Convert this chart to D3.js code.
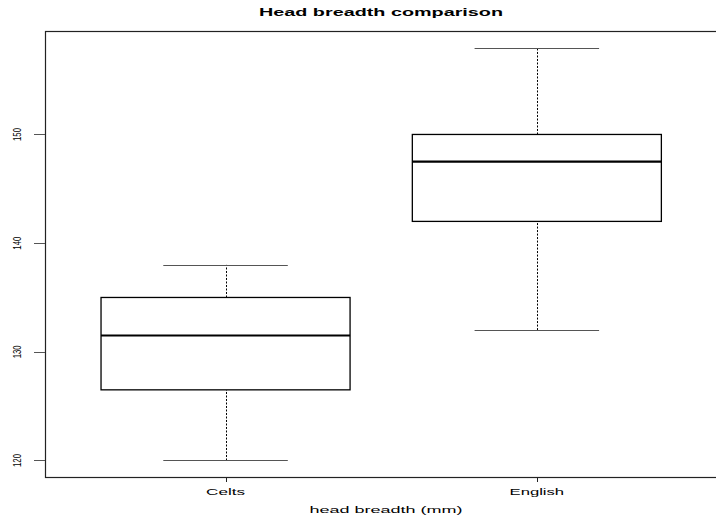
<!DOCTYPE html>
<html>
<head>
<meta charset="utf-8">
<script src="https://cdn.jsdelivr.net/npm/d3@7"></script>
<style>
  body { margin: 0; background: #fff; }
  text { font-family: "Liberation Sans", Arial, Helvetica, sans-serif; fill: #000; }
</style>
</head>
<body>
<svg width="716" height="515"></svg>
<script>
// data
var groups = ["Celts", "English"];
var lowWhisker = [120, 132];
var q1 = [126.5, 142];
var medians = [131.5, 147.5];
var q3 = [135, 150];
var highWhisker = [138, 158];
var yTicks = [120, 130, 140, 150];

var svg = d3.select("svg"),
    width = +svg.attr("width"),
    height = +svg.attr("height");

// plot region (right edge falls just off the canvas, like the original)
var plotLeft = 45, plotRight = 717.4, plotTop = 31, plotBottom = 477;

// R style 4% padding on both axes
var x = d3.scaleLinear()
    .domain([0.42, 2.58])
    .range([plotLeft, plotRight]);

var y = d3.scaleLinear()
    .domain([118.48, 159.52])
    .range([plotBottom, plotTop]);

var boxes = groups.map(function(g, i) {
  return {name: g, pos: i + 1, lo: lowWhisker[i], q1: q1[i], med: medians[i], q3: q3[i], hi: highWhisker[i]};
});

var g = svg.selectAll("g.box")
  .data(boxes)
  .enter().append("g")
    .attr("class", "box");

// dashed whiskers
g.append("line")
    .attr("x1", function(d){ return Math.round(x(d.pos)) + 0.5 })
    .attr("x2", function(d){ return Math.round(x(d.pos)) + 0.5 })
    .attr("y1", function(d){ return y(d.lo) })
    .attr("y2", function(d){ return y(d.q1) })
    .style("stroke", "#000")
    .style("stroke-width", 1)
    .style("stroke-dasharray", "2,1.5");

g.append("line")
    .attr("x1", function(d){ return Math.round(x(d.pos)) + 0.5 })
    .attr("x2", function(d){ return Math.round(x(d.pos)) + 0.5 })
    .attr("y1", function(d){ return y(d.q3) })
    .attr("y2", function(d){ return y(d.hi) })
    .style("stroke", "#000")
    .style("stroke-width", 1)
    .style("stroke-dasharray", "2,1.5");

// staples
["lo", "hi"].forEach(function(k) {
  g.append("line")
      .attr("x1", function(d){ return x(d.pos - 0.2) })
      .attr("x2", function(d){ return x(d.pos + 0.2) })
      .attr("y1", function(d){ return Math.round(y(d[k])) + 0.5 })
      .attr("y2", function(d){ return Math.round(y(d[k])) + 0.5 })
      .style("stroke", "#555")
      .style("stroke-width", 1);
});

// box
g.append("rect")
    .attr("x", function(d){ return x(d.pos - 0.4) })
    .attr("width", function(d){ return x(d.pos + 0.4) - x(d.pos - 0.4) })
    .attr("y", function(d){ return y(d.q3) })
    .attr("height", function(d){ return y(d.q1) - y(d.q3) })
    .style("fill", "#fff")
    .style("stroke", "#000")
    .style("stroke-width", 1.3);

// median
g.append("line")
    .attr("x1", function(d){ return x(d.pos - 0.4) })
    .attr("x2", function(d){ return x(d.pos + 0.4) })
    .attr("y1", function(d){ return y(d.med) })
    .attr("y2", function(d){ return y(d.med) })
    .style("stroke", "#000")
    .style("stroke-width", 2.2);

// frame
svg.append("rect")
    .attr("x", plotLeft + 0.5)
    .attr("y", plotTop + 0.5)
    .attr("width", plotRight - plotLeft + 0.5)
    .attr("height", plotBottom - plotTop)
    .style("fill", "none")
    .style("stroke", "#222")
    .style("stroke-width", 1.2);

// y axis ticks and rotated labels
svg.selectAll("line.ytick")
  .data(yTicks)
  .enter().append("line")
    .attr("x1", 34)
    .attr("x2", plotLeft)
    .attr("y1", function(d){ return Math.round(y(d)) + 0.5 })
    .attr("y2", function(d){ return Math.round(y(d)) + 0.5 })
    .style("stroke", "#555")
    .style("stroke-width", 1);

svg.selectAll("text.ylab")
  .data(yTicks)
  .enter().append("text")
    .attr("transform", function(d){ return "translate(21," + y(d) + ") rotate(-90)" })
    .attr("text-anchor", "middle")
    .attr("textLength", 13)
    .attr("lengthAdjust", "spacingAndGlyphs")
    .style("font-size", "10.5px")
    .text(function(d){ return d });

// x axis ticks and labels
svg.selectAll("line.xtick")
  .data(boxes)
  .enter().append("line")
    .attr("x1", function(d){ return Math.round(x(d.pos)) + 0.5 })
    .attr("x2", function(d){ return Math.round(x(d.pos)) + 0.5 })
    .attr("y1", plotBottom)
    .attr("y2", plotBottom + 5)
    .style("stroke", "#222")
    .style("stroke-width", 1);

svg.selectAll("text.xlab")
  .data(boxes)
  .enter().append("text")
    .attr("x", function(d){ return x(d.pos) })
    .attr("y", 495)
    .attr("text-anchor", "middle")
    .attr("textLength", function(d){ return d.name.length * 7.8 })
    .attr("lengthAdjust", "spacingAndGlyphs")
    .style("font-size", "9px")
    .text(function(d){ return d.name });

// title and axis title
svg.append("text")
    .attr("x", 381)
    .attr("y", 16)
    .attr("text-anchor", "middle")
    .attr("textLength", 244)
    .attr("lengthAdjust", "spacingAndGlyphs")
    .style("font-size", "10px")
    .style("font-weight", "bold")
    .text("Head breadth comparison");

svg.append("text")
    .attr("x", 386)
    .attr("y", 513)
    .attr("text-anchor", "middle")
    .attr("textLength", 153)
    .attr("lengthAdjust", "spacingAndGlyphs")
    .style("font-size", "9px")
    .text("head breadth (mm)");
</script>
</body>
</html>
